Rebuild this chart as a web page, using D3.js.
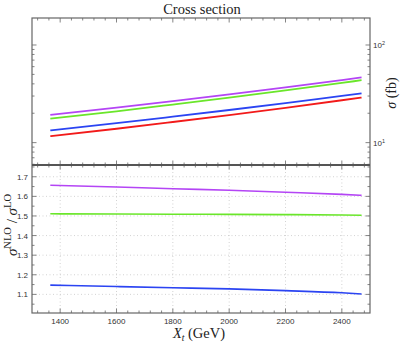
<!DOCTYPE html>
<html><head><meta charset="utf-8">
<script src="https://cdn.jsdelivr.net/npm/d3@7"></script>
<style>body{margin:0;background:#fff}svg{display:block}</style>
</head><body>
<svg id="c" width="403" height="343"></svg>
<script>
// ---- data ----
const xt = [1365, 1600, 1800, 2000, 2200, 2400, 2470];
const sigmaLO    = [11.63, 13.87, 16.26, 19.14, 22.70, 27.16, 28.97];  // red
const sigmaNLO_b = [13.34, 15.81, 18.44, 21.59, 25.40, 30.09, 31.92];  // blue
const sigmaNLO_g = [17.57, 20.94, 24.54, 28.86, 34.21, 40.88, 43.57];  // green
const sigmaNLO_p = [19.27, 22.86, 26.65, 31.22, 36.80, 43.73, 46.50];  // purple
const ratio_b = [1.147, 1.140, 1.134, 1.128, 1.119, 1.108, 1.102];
const ratio_g = [1.511, 1.510, 1.509, 1.508, 1.507, 1.505, 1.504];
const ratio_p = [1.657, 1.648, 1.639, 1.631, 1.621, 1.610, 1.605];
const xTicks = [1400, 1600, 1800, 2000, 2200, 2400];
const ratioTicks = [1.1, 1.2, 1.3, 1.4, 1.5, 1.6, 1.7];

const colors = {red:"#f21a1a", blue:"#2b44f2", green:"#6ae62a", purple:"#b445f5"};

const svg = d3.select("#c");
const L = 32, R = 370, T1 = 18, B1 = 165, T2 = 165, B2 = 313;
const x = d3.scaleLinear().domain([1300, 2500]).range([L, R]);
const yTop = d3.scaleLog().domain([5.9, 189]).range([B1, T1]);
const yBot = d3.scaleLinear().domain([1.005, 1.76]).range([B2, T2]);
const axisCol = "#666";
const sans = "'Liberation Sans', Arial, sans-serif";
const serif = "'Liberation Serif', 'Times New Roman', serif";

// grid in bottom panel
const grid = svg.append("g").attr("stroke", "#c8c8c8").attr("stroke-width", 0.8).attr("stroke-dasharray", "1,2.5");
xTicks.forEach(v => grid.append("line").attr("x1", x(v)).attr("x2", x(v)).attr("y1", T2).attr("y2", B2));
ratioTicks.forEach(v => grid.append("line").attr("x1", L).attr("x2", R).attr("y1", yBot(v)).attr("y2", yBot(v)));

// lines
const lineTop = ys => d3.line().curve(d3.curveMonotoneX).x((d, i) => x(xt[i])).y(d => yTop(d))(ys);
const lineBot = ys => d3.line().curve(d3.curveMonotoneX).x((d, i) => x(xt[i])).y(d => yBot(d))(ys);
[[sigmaLO, "red"], [sigmaNLO_b, "blue"], [sigmaNLO_g, "green"], [sigmaNLO_p, "purple"]].forEach(([s, c]) =>
  svg.append("path").attr("d", lineTop(s)).attr("fill", "none").attr("stroke", colors[c]).attr("stroke-width", 1.8));
[[ratio_b, "blue"], [ratio_g, "green"], [ratio_p, "purple"]].forEach(([s, c]) =>
  svg.append("path").attr("d", lineBot(s)).attr("fill", "none").attr("stroke", colors[c]).attr("stroke-width", 1.6));

// ticks
const tk = svg.append("g").attr("stroke", axisCol).attr("stroke-width", 0.8);
const xMinor = d3.range(1320, 2500, 40);
function xTicksAt(yLine, dir) {
  xMinor.forEach(v => {
    const major = xTicks.includes(v);
    tk.append("line").attr("x1", x(v)).attr("x2", x(v)).attr("y1", yLine).attr("y2", yLine + dir * (major ? 4.5 : 2.5));
  });
}
xTicksAt(T1, 1); xTicksAt(B1, -1); xTicksAt(T2, 1); xTicksAt(B2, -1);

// log ticks top panel
const logTicks = [];
[1, 10, 100].forEach(d => d3.range(1, 10).forEach(m => { const v = d * m; if (v >= 5.9 && v <= 189) logTicks.push(v); }));
logTicks.forEach(v => {
  const major = (v === 10 || v === 100);
  const len = major ? 4.5 : 2.5;
  tk.append("line").attr("x1", L).attr("x2", L + len).attr("y1", yTop(v)).attr("y2", yTop(v));
  tk.append("line").attr("x1", R).attr("x2", R - len).attr("y1", yTop(v)).attr("y2", yTop(v));
});
// ratio ticks
d3.range(1.05, 1.76, 0.05).forEach(v => {
  const major = Math.abs(v * 10 - Math.round(v * 10)) < 1e-6;
  const len = major ? 4.5 : 2.5;
  tk.append("line").attr("x1", L).attr("x2", L + len).attr("y1", yBot(v)).attr("y2", yBot(v));
  tk.append("line").attr("x1", R).attr("x2", R - len).attr("y1", yBot(v)).attr("y2", yBot(v));
});

// frames
svg.append("rect").attr("x", L).attr("y", T1).attr("width", R - L).attr("height", B2 - T1)
  .attr("fill", "none").attr("stroke", axisCol).attr("stroke-width", 1.2);
svg.append("line").attr("x1", L).attr("x2", R).attr("y1", B1).attr("y2", B1).attr("stroke", "#555").attr("stroke-width", 1.8);

// labels
const lab = svg.append("g").attr("font-family", sans).attr("font-size", 8).attr("fill", "#333");
xTicks.forEach(v => lab.append("text").attr("x", x(v)).attr("y", 324).attr("text-anchor", "middle").text(v));
ratioTicks.forEach(v => lab.append("text").attr("x", 28).attr("y", yBot(v) + 3).attr("text-anchor", "end").text(v.toFixed(1)));
[[10, "1"], [100, "2"]].forEach(([v, e]) => {
  const t = lab.append("text").attr("x", 373).attr("y", yTop(v) + 3.5);
  t.append("tspan").text("10");
  t.append("tspan").attr("font-size", 5.5).attr("dy", -3.5).text(e);
});

svg.append("text").attr("x", 202).attr("y", 14).attr("text-anchor", "middle")
  .attr("font-family", serif).attr("font-size", 14.5).attr("fill", "#222").text("Cross section");

const sl = svg.append("text").attr("transform", "translate(396,93) rotate(-90)").attr("text-anchor", "middle")
  .attr("font-family", serif).attr("font-size", 14).attr("fill", "#222");
sl.append("tspan").attr("font-style", "italic").text("σ");
sl.append("tspan").text(" (fb)");

const rl = svg.append("text").attr("transform", "translate(17,225) rotate(-90)").attr("text-anchor", "middle")
  .attr("font-family", serif).attr("font-size", 15).attr("fill", "#222");
rl.append("tspan").attr("font-style", "italic").text("σ");
rl.append("tspan").attr("font-size", 10.5).attr("dy", -6).text("NLO");
rl.append("tspan").attr("dy", 6).text(" / ");
rl.append("tspan").attr("font-style", "italic").text("σ");
rl.append("tspan").attr("font-size", 10.5).attr("dy", -6).text("LO");

const xl = svg.append("text").attr("x", 199).attr("y", 338).attr("text-anchor", "middle")
  .attr("font-family", serif).attr("font-size", 14.5).attr("fill", "#222");
xl.append("tspan").attr("font-style", "italic").text("X");
xl.append("tspan").attr("font-style", "italic").attr("font-size", 9.5).attr("dy", 3).text("t");
xl.append("tspan").attr("dy", -3).text(" (GeV)");
</script>
</body></html>
